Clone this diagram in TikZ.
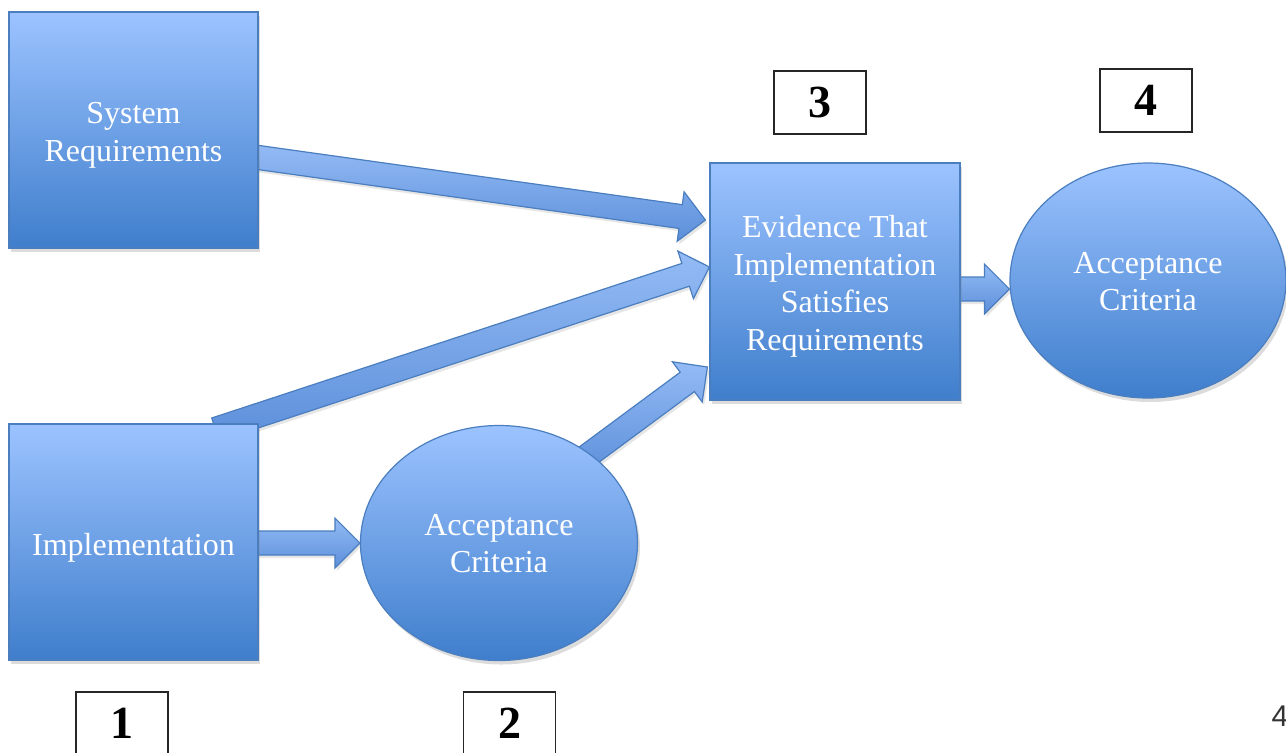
\documentclass[tikz,border=0pt]{standalone}
\usepackage{fontspec}
\setmainfont{Liberation Serif}
\setsansfont{Liberation Sans}
\usetikzlibrary{calc,shapes.geometric,shadows}
\definecolor{bluetop}{HTML}{9CC3FF}
\definecolor{bluebot}{HTML}{3F7ECC}
\definecolor{blueline}{HTML}{4A7EBF}
\definecolor{arrtop}{HTML}{94BBF5}
\definecolor{arrbot}{HTML}{5C8FDA}
\pgfdeclarelayer{bg}
\pgfsetlayers{bg,main}
\newcommand\blockarrow[2]{%
  \coordinate (ba-h) at ($(#2)!12.5pt!(#1)$);
  \path[barrow] ($(#1)!6pt!90:(#2)$) -- ($(ba-h)!6pt!-90:(#1)$)
    -- ($(ba-h)!12.5pt!-90:(#1)$) -- (#2)
    -- ($(ba-h)!12.5pt!90:(#1)$) -- ($(ba-h)!6pt!90:(#1)$)
    -- ($(#1)!6pt!-90:(#2)$) -- cycle;}
\newcommand\boxlbl[2]{\raisebox{-#1}[\height][\depth]{\begin{tabular}{@{}c@{}}#2\end{tabular}}}
\begin{document}
\begin{tikzpicture}[x=0.5pt,y=-0.5pt,
  shadowed/.style={drop shadow={opacity=0.28,shadow xshift=1.2pt,shadow yshift=-2pt}},
  bluebox/.style={rectangle,draw=blueline,line width=0.6pt,top color=bluetop,bottom color=bluebot,
    minimum width=124.5pt,minimum height=118pt,inner sep=0pt,text=white,
    font=\fontsize{16}{18.7}\selectfont,shadowed},
  blueell/.style={ellipse,draw=blueline,line width=0.6pt,top color=bluetop,bottom color=bluebot,
    minimum width=138.5pt,minimum height=117.5pt,inner sep=0pt,text=white,
    font=\fontsize{16}{18.5}\selectfont,shadowed},
  numbox/.style={rectangle,draw=black!85,line width=0.7pt,minimum width=46pt,minimum height=31.5pt,
    inner sep=0pt,font=\fontsize{23}{26}\selectfont\bfseries},
  barrow/.style={draw=blueline,line width=0.6pt,top color=arrtop,bottom color=arrbot,
    drop shadow={opacity=0.2,shadow xshift=1pt,shadow yshift=-1.5pt}}]
\useasboundingbox (0,0) rectangle (1286,752);
\node[bluebox] (sr) at (133.5,130) {\boxlbl{2.5pt}{System\\Requirements}};
\node[bluebox] (im) at (133.5,542) {\boxlbl{3pt}{Implementation}};
\node[bluebox,minimum width=125pt,minimum height=118.5pt] (ev) at (835,281.5)
  {\boxlbl{2.5pt}{Evidence That\\Implementation\\Satisfies\\Requirements}};
\node[blueell] (ac2) at (499,543) {\boxlbl{2pt}{Acceptance\\Criteria}};
\node[blueell,minimum width=138pt] (ac4) at (1148,280.5) {\boxlbl{2pt}{Acceptance\\Criteria}};
\node[numbox] (n1) at (122,723.5) {1};
\node[numbox] (n2) at (509.5,723.5) {2};
\node[numbox] (n3) at (820,102.5) {3};
\node[numbox] (n4) at (1146,100.5) {4};
\node[font=\sffamily\fontsize{15}{18}\selectfont,text=black!80] (pg) at (1280,716) {4};
% connector ends
\coordinate (s1) at ($(sr.east)+(-18,25)$);
\coordinate (e1) at ($(ev.west)+(-4,-61.5)$);
\coordinate (s2) at ($(im.north)+(82,6)$);
\coordinate (e2) at ($(ev.west)+(0,-14.5)$);
\coordinate (s3) at ($(ac2.center)+(76,-78)$);
\coordinate (e3) at ($(ev.west)+(-2,85.5)$);
\coordinate (s4) at ($(im.east)+(-8,1)$);
\coordinate (e4) at ($(ac2.west)+(0,0)$);
\coordinate (s5) at ($(ev.east)+(-10,7.5)$);
\coordinate (e5) at ($(ac4.west)+(0,8.5)$);
\begin{pgfonlayer}{bg}
\blockarrow{s1}{e1}
\blockarrow{s2}{e2}
\blockarrow{s3}{e3}
\blockarrow{s4}{e4}
\blockarrow{s5}{e5}
\end{pgfonlayer}
\end{tikzpicture}
\end{document}
